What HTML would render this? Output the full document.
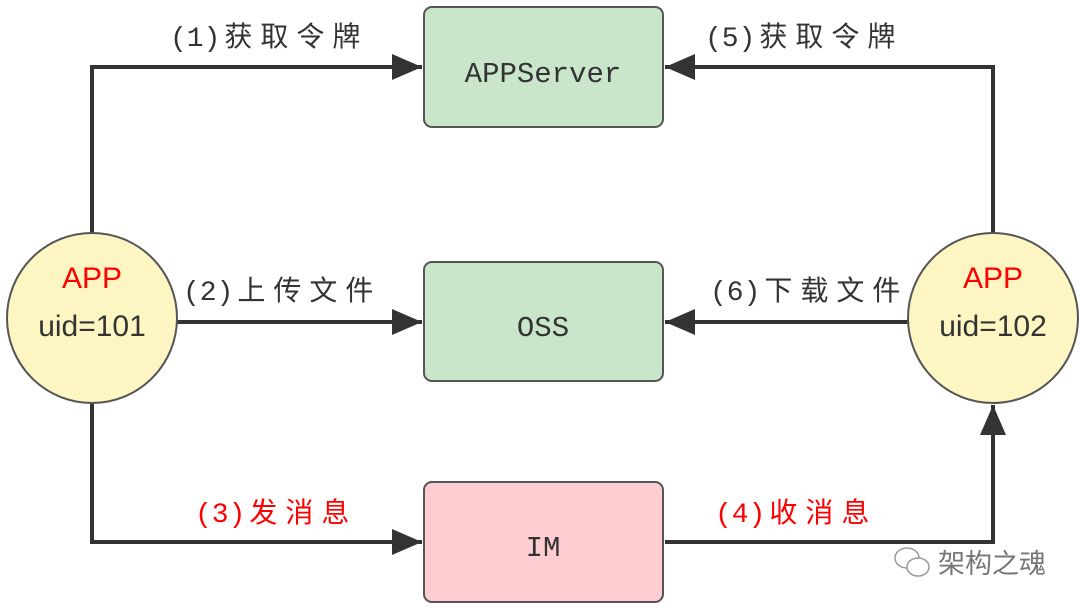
<!DOCTYPE html>
<html><head><meta charset="utf-8"><style>body{margin:0;background:#fff}svg{display:block}</style></head><body>
<svg width="1080" height="611" viewBox="0 0 1080 611" font-family="'Liberation Mono','Noto Sans CJK SC',monospace">
<defs>
<marker id="b" markerWidth="30" markerHeight="26" refX="30" refY="13" orient="auto" markerUnits="userSpaceOnUse"><path d="M0,0L30,13L0,26z" fill="#333"/></marker></defs>
<g stroke="#333" stroke-width="4" fill="none">
<path d="M92,233V67H422" marker-end="url(#b)"/>
<path d="M993,233V67H665" marker-end="url(#b)"/>
<path d="M177,322H422" marker-end="url(#b)"/>
<path d="M908,322H665" marker-end="url(#b)"/>
<path d="M92,403V542H422" marker-end="url(#b)"/>
<path d="M665,542H993V405" marker-end="url(#b)"/>
</g>
<g stroke="#555" stroke-width="2">
<rect x="424" y="7" width="239" height="120" rx="8" fill="#c9e6cb"/>
<rect x="424" y="262" width="239" height="119" rx="8" fill="#c9e6cb"/>
<rect x="424" y="482" width="239" height="120" rx="8" fill="#fdcdd1"/>
<circle cx="92" cy="318" r="85" fill="#fdf6c3"/>
<circle cx="993" cy="318" r="85" fill="#fdf6c3"/>
</g>
<g font-size="29" fill="#333" text-anchor="middle">
<text x="543" y="82">APPServer</text>
<text x="543" y="336">OSS</text>
<text x="543" y="556">IM</text>
</g>
<g font-family="'Liberation Sans','Noto Sans CJK SC',sans-serif" font-size="30" text-anchor="middle">
<text x="92" y="288" fill="#f00">APP</text>
<text x="92" y="336" fill="#333">uid=101</text>
<text x="993" y="288" fill="#f00">APP</text>
<text x="993" y="336" fill="#333">uid=102</text>
</g>
<g font-size="28" fill="#333">
<text x="170" y="46">(1)<tspan dx="4" letter-spacing="8">获取令牌</tspan></text>
<text x="705" y="46">(5)<tspan dx="4" letter-spacing="8">获取令牌</tspan></text>
<text x="183" y="300">(2)<tspan dx="4" letter-spacing="8">上传文件</tspan></text>
<text x="710" y="300">(6)<tspan dx="4" letter-spacing="8">下载文件</tspan></text>
<text x="195" y="522" fill="#f00">(3)<tspan dx="4" letter-spacing="8">发消息</tspan></text>
<text x="715" y="522" fill="#f00">(4)<tspan dx="4" letter-spacing="8">收消息</tspan></text>
</g>
<text x="938" y="573" font-family="'Liberation Sans','Noto Sans CJK SC',sans-serif" font-size="27" fill="#777">架构之魂</text>
<g fill="#fff" stroke="#999" stroke-width="1.5"><ellipse cx="907" cy="558" rx="12" ry="10"/><ellipse cx="918" cy="567" rx="11" ry="9"/></g>
</svg>
</body></html>
